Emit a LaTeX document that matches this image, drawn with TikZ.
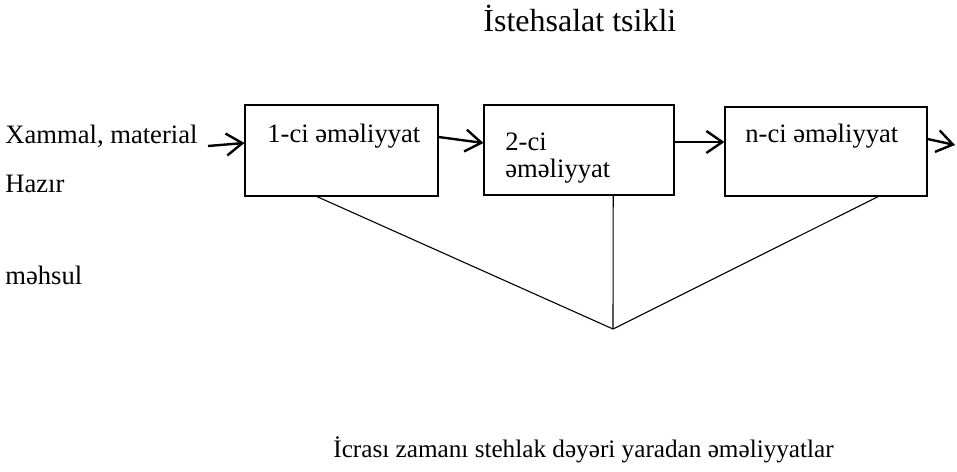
\documentclass[tikz,border=0pt]{standalone}
\usepackage{fontspec}
\setmainfont{Liberation Serif}
\usetikzlibrary{arrows.meta,calc}
\begin{document}
\begin{tikzpicture}[x=0.5pt,y=-0.5pt,
  opbox/.style={draw,line width=0.55pt,rectangle,inner sep=0pt},
  txt/.style={anchor=base west,inner sep=0pt,font=\fontsize{13.3}{16}\selectfont},
  captxt/.style={anchor=base west,inner sep=0pt,font=\fontsize{12.6}{15}\selectfont},
  ttl/.style={anchor=base west,inner sep=0pt,font=\fontsize{16}{19}\selectfont},
  flow/.style={line width=1.2pt,-{Straight Barb[length=8pt,width=11pt,line width=1.2pt]}},
  link/.style={line width=0.55pt}]
\useasboundingbox (0,0) rectangle (957,471);

% title
\node[ttl] (title) at (483,32) {İstehsalat tsikli};

% operation boxes
\node[opbox,minimum width=96.5pt,minimum height=45.5pt] (b1) at (341.5,150.5) {};
\node[opbox,minimum width=95pt,minimum height=45pt] (b2) at (579,150) {};
\node[opbox,minimum width=101pt,minimum height=44.5pt] (b3) at (826,151.5) {};

% box texts
\node[txt] (t1) at (267,142) {1-ci əməliyyat};
\node[txt] (t2a) at (505,150) {2-ci};
\node[txt] (t2b) at (505,177) {əməliyyat};
\node[txt] (t3) at (745,142) {n-ci əməliyyat};

% side labels
\node[txt] (in) at (5,143) {Xammal, material};
\node[txt] (ready) at (5,192) {Hazır};
\node[txt] (prod) at (5,284) {məhsul};

% bottom caption
\node[captxt] (cap) at (333,457) {İcrası zamanı stehlak dəyəri yaradan əməliyyatlar};

% flow arrows
\coordinate (src) at (208,146);
\coordinate (dst) at (955,145);
\draw[flow] (src) -- ([yshift=3.75pt]b1.west);
\draw[flow] ([yshift=6.75pt]b1.east) -- ([yshift=3.5pt]b2.west);
\draw[flow] ([yshift=4pt]b2.east) -- ([yshift=4.75pt]b3.west);
\draw[flow] ([yshift=6.25pt]b3.east) -- (dst);

% converging lines
\coordinate (meet) at (613,329);
\draw[link] ($(b1.south west)!0.373!(b1.south east)$) -- (meet);
\draw[link] ($(b2.south west)!0.679!(b2.south east)$) -- (meet);
\draw[link] ($(b3.south west)!0.757!(b3.south east)$) -- (meet);
\end{tikzpicture}
\end{document}
